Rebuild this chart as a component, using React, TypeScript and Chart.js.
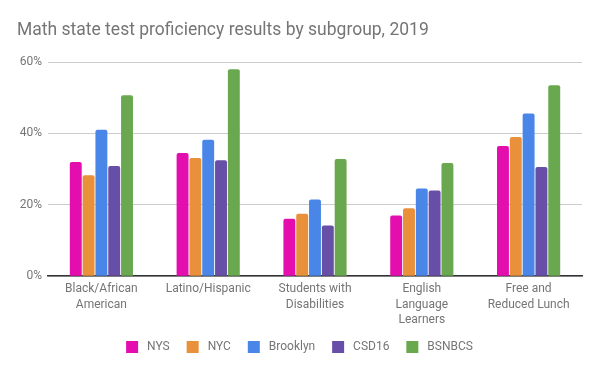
import React, { useEffect, useRef } from "react";
import { Chart, registerables } from "chart.js";

Chart.register(...registerables);

const categories: (string | string[])[] = [
  ["Black/African", "American"],
  "Latino/Hispanic",
  ["Students with", "Disabilities"],
  ["English", "Language", "Learners"],
  ["Free and", "Reduced Lunch"],
];

const seriesNames = ["NYS", "NYC", "Brooklyn", "CSD16", "BSNBCS"];
const nys = [32.0, 34.5, 16.1, 17.0, 36.5];
const nyc = [28.3, 33.1, 17.5, 19.0, 39.0];
const brooklyn = [41.0, 38.2, 21.5, 24.6, 45.6];
const csd16 = [30.9, 32.5, 14.2, 24.0, 30.6];
const bsnbcs = [50.7, 58.0, 32.8, 31.7, 53.5];
const yTicks = [0, 20, 40, 60];

const colors = ["#e40eae", "#e8913a", "#4a86e8", "#674ea7", "#6aa84f"];

export default function App() {
  const ref = useRef<HTMLCanvasElement | null>(null);

  useEffect(() => {
    document.body.style.margin = "0";
    const canvas = ref.current;
    if (!canvas) return;
    const values = [nys, nyc, brooklyn, csd16, bsnbcs];
    const chart = new Chart(canvas, {
      type: "bar",
      data: {
        labels: categories as any,
        datasets: seriesNames.map((name, i) => ({
          label: name,
          data: values[i],
          backgroundColor: colors[i],
          borderWidth: 0,
          borderRadius: { topLeft: 2, topRight: 2, bottomLeft: 0, bottomRight: 0 },
          borderSkipped: "bottom",
          categoryPercentage: 0.6,
          barPercentage: 0.93,
        })),
      },
      options: {
        animation: false,
        responsive: false,
        maintainAspectRatio: false,
        layout: { padding: { left: 17, right: 18, top: 0, bottom: 8 } },
        plugins: {
          title: {
            display: true,
            text: "Math state test proficiency results by subgroup, 2019",
            align: "start",
            color: "#757575",
            font: { family: "Roboto", size: 17.5, weight: "normal" },
            padding: { top: 20, bottom: 21 },
          },
          legend: {
            position: "bottom",
            labels: {
              boxWidth: 12,
              boxHeight: 12,
              color: "#757575",
              font: { family: "Roboto", size: 12 },
              padding: 8,
              generateLabels: (c: any) => {
                const base = Chart.defaults.plugins.legend.labels.generateLabels(c);
                return base.map((l: any, i: number) => ({
                  ...l,
                  text: " " + l.text + (i < base.length - 1 ? "   " : ""),
                  lineWidth: 0,
                }));
              },
            },
          },
          tooltip: { enabled: false },
        },
        scales: {
          x: {
            grid: { display: false, drawTicks: false },
            border: { display: true, color: "#333333", width: 1.5 },
            ticks: {
              color: "#757575",
              font: { family: "Roboto", size: 12, lineHeight: 1.3 },
              padding: 5,
              maxRotation: 0,
              autoSkip: false,
            },
          },
          y: {
            min: 0,
            max: 60,
            afterFit: (s: any) => {
              s.width = 31;
            },
            afterBuildTicks: (s: any) => {
              s.ticks = yTicks.map((v) => ({ value: v }));
            },
            grid: { color: "#cccccc", drawTicks: false },
            border: { display: false },
            ticks: {
              color: "#757575",
              font: { family: "Roboto", size: 12 },
              padding: 6,
              callback: (v: any) => v + "%",
            },
          },
        },
      },
    });
    return () => chart.destroy();
  }, []);

  return (
    <div style={{ width: 600, height: 371, position: "relative" }}>
      <canvas ref={ref} width={600} height={371} style={{ display: "block" }} />
    </div>
  );
}
